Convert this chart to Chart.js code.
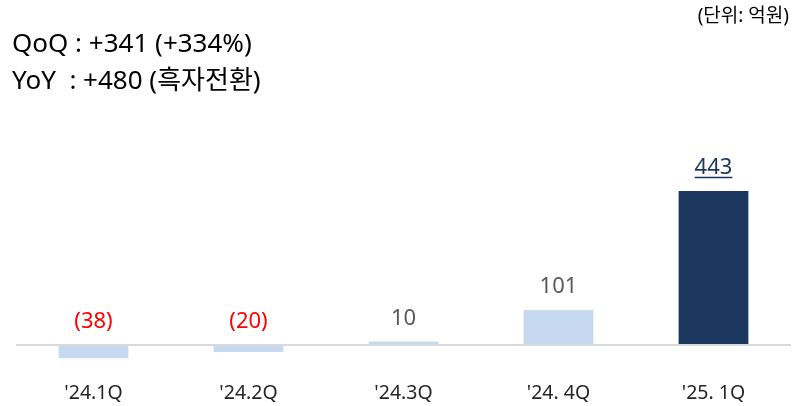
<!DOCTYPE html>
<html>
<head>
<meta charset="utf-8">
<script src="https://cdn.jsdelivr.net/npm/chart.js@4/dist/chart.umd.min.js"></script>
<style>
html,body{margin:0;padding:0;background:#fff;}
#wrap{position:relative;width:794px;height:406px;}
</style>
</head>
<body>
<div id="wrap"><canvas id="c" width="794" height="406"></canvas></div>
<script>
const categories = ["'24.1Q", "'24.2Q", "'24.3Q", "'24. 4Q", "'25. 1Q"];
const values = [-38, -20, 10, 101, 443];
const headerLines = ["QoQ : +341 (+334%)", "YoY  : +480 (흑자전환)"];
const unitText = "(단위: 억원)";

const FONT = "'Noto Sans', 'Noto Sans CJK KR', sans-serif";
const LIGHT = '#c6d9f0';
const NAVY = '#1b375d';
const lastIdx = values.length - 1;

function fmt(v){ return v < 0 ? '(' + Math.abs(v) + ')' : String(v); }

const overlay = {
  id: 'overlay',
  afterDatasetsDraw(chart){
    const ctx = chart.ctx;
    const xs = chart.scales.x, ys = chart.scales.y;
    const area = chart.chartArea;
    const y0 = ys.getPixelForValue(0);
    ctx.save();
    ctx.strokeStyle = '#d9d9d9';
    ctx.lineWidth = 2;
    ctx.beginPath();
    ctx.moveTo(area.left, y0);
    ctx.lineTo(area.right, y0);
    ctx.stroke();
    const meta = chart.getDatasetMeta(0);
    ctx.textAlign = 'center';
    ctx.textBaseline = 'middle';
    meta.data.forEach((bar, i) => {
      const v = values[i];
      const top = Math.min(bar.y, bar.base);
      const ly = top - 23;
      ctx.font = '22px ' + FONT;
      let color = '#595959';
      if (v < 0) color = '#ff0000';
      if (i === lastIdx) color = NAVY;
      ctx.fillStyle = color;
      const txt = fmt(v);
      ctx.fillText(txt, bar.x, ly);
      if (i === lastIdx) {
        const w = ctx.measureText(txt).width;
        ctx.strokeStyle = NAVY;
        ctx.lineWidth = 1.3;
        ctx.beginPath();
        ctx.moveTo(bar.x - w/2, ly + 9.5);
        ctx.lineTo(bar.x + w/2, ly + 9.5);
        ctx.stroke();
      }
    });
    ctx.font = '19.5px ' + FONT;
    ctx.fillStyle = '#262626';
    categories.forEach((c, i) => {
      ctx.fillText(c, xs.getPixelForValue(i), 393);
    });
    ctx.textAlign = 'left';
    ctx.font = '26px ' + FONT;
    ctx.fillStyle = '#000000';
    headerLines.forEach((t, i) => ctx.fillText(t, 12, 45 + i * 37));
    ctx.textAlign = 'right';
    ctx.font = '19px ' + FONT;
    ctx.fillText(unitText, 789, 17);
    ctx.restore();
  }
};

new Chart(document.getElementById('c'), {
  type: 'bar',
  data: {
    labels: categories,
    datasets: [{
      data: values,
      backgroundColor: values.map((v, i) => i === lastIdx ? NAVY : LIGHT),
      borderWidth: 0,
      barPercentage: 0.45,
      categoryPercentage: 1.0
    }]
  },
  options: {
    responsive: false,
    animation: false,
    layout: { padding: { left: 16, right: 3, top: 0, bottom: 0 } },
    plugins: { legend: { display: false }, tooltip: { enabled: false } },
    scales: {
      x: { display: false },
      y: { display: false, min: -175.5, max: 992.5 }
    }
  },
  plugins: [overlay]
});
</script>
</body>
</html>
